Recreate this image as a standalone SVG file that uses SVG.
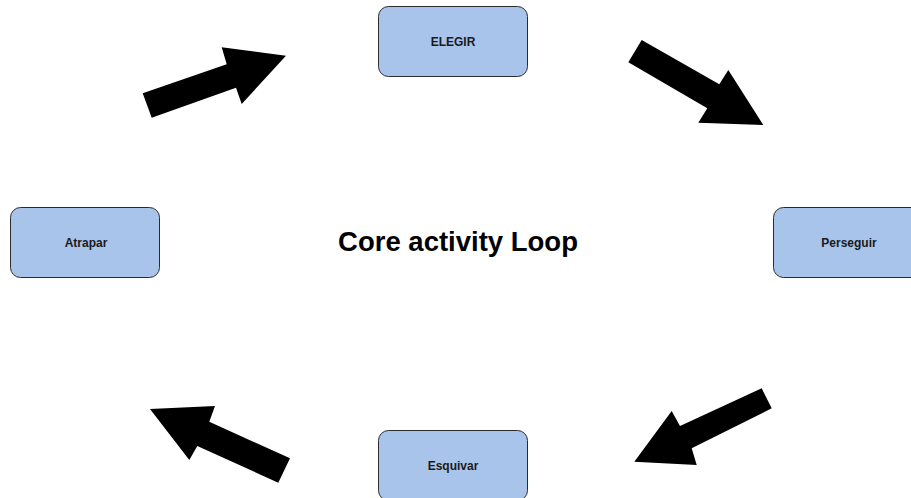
<svg xmlns="http://www.w3.org/2000/svg" width="911" height="498" viewBox="0 0 911 498">
  <style>
    .node rect { fill: #a9c4eb; stroke: #2b2b2b; stroke-width: 1; }
    .node text { font-family: "Liberation Sans", Arial, sans-serif; font-weight: bold; font-size: 12px; fill: #1a1a1a; text-anchor: middle; }
    .title { font-family: "Liberation Sans", Arial, sans-serif; font-weight: bold; font-size: 27.5px; fill: #000; text-anchor: middle; }
    .arrow { fill: #000; stroke: none; }
  </style>
  <rect width="911" height="498" fill="#fff"/>

  <g id="node-elegir" class="node">
    <rect x="378.5" y="6.5" width="149" height="70" rx="10"/>
    <text x="453" y="46">ELEGIR</text>
  </g>
  <g id="node-perseguir" class="node">
    <rect x="773.5" y="207.5" width="149" height="70" rx="10"/>
    <text x="849" y="247">Perseguir</text>
  </g>
  <g id="node-esquivar" class="node">
    <rect x="378.5" y="430.5" width="149" height="70" rx="10"/>
    <text x="453" y="470">Esquivar</text>
  </g>
  <g id="node-atrapar" class="node">
    <rect x="10.5" y="207.5" width="149" height="70" rx="10"/>
    <text x="86" y="247">Atrapar</text>
  </g>

  <text class="title" x="458" y="251">Core activity Loop</text>

  <g id="connectors">
    <!-- Atrapar -> ELEGIR -->
    <polygon class="arrow" points="142.7,93.3 226.7,64.3 221.7,47.3 286,55.7 241.7,104 236,87.7 151.7,117.7"/>
    <!-- ELEGIR -> Perseguir -->
    <polygon class="arrow" points="641.7,40 719.3,84.3 728.3,70 763.3,125 698.3,122.7 707.3,108.3 628.3,62.3"/>
    <!-- Perseguir -> Esquivar -->
    <polygon class="arrow" points="761.7,388.3 771.7,408.3 691.7,448.3 696.7,465 634.3,461.7 671.7,411 680,426"/>
    <!-- Esquivar -> Atrapar -->
    <polygon class="arrow" points="290,458.3 278.3,482.7 197.3,446 189.3,460 150,409 215,406 209.3,421.7"/>
  </g>
</svg>
